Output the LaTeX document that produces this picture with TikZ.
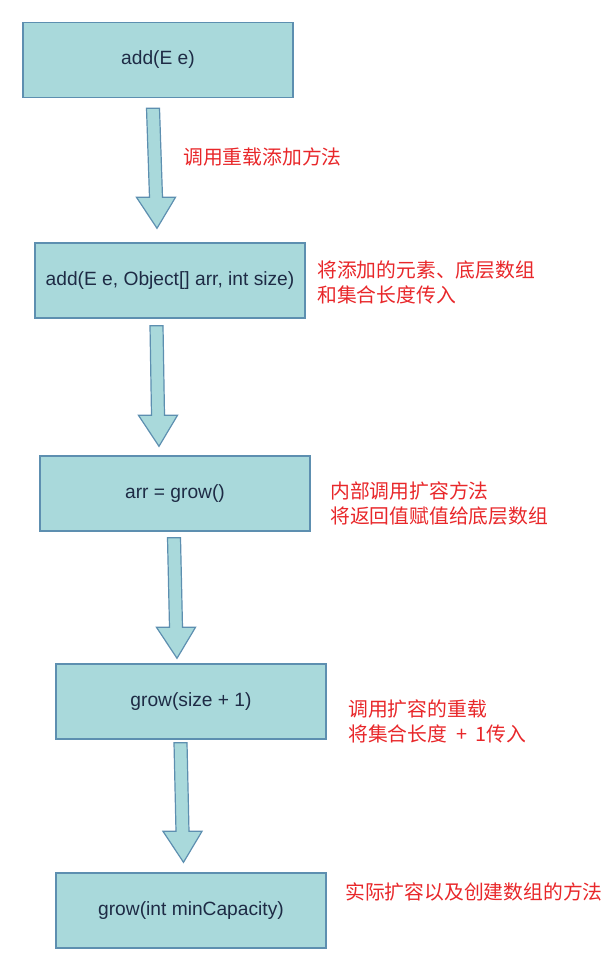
\documentclass[tikz,border=0pt]{standalone}
\usepackage{fontspec}
\setmainfont{Liberation Sans}
\newfontfamily\cjk{Noto Sans CJK SC}
\usetikzlibrary{calc}
\definecolor{boxfill}{HTML}{A9D9DB}
\definecolor{boxline}{HTML}{5D8FB0}
\definecolor{txtnavy}{HTML}{1E2B45}
\definecolor{notered}{HTML}{E8272A}

\begin{document}
\begin{tikzpicture}[
      x=1pt, y=-1pt,
      stepbox/.style={
        draw=boxline, fill=boxfill, line width=1.4pt,
        minimum width=270pt, minimum height=75pt, inner sep=0pt,
        text=txtnavy, font=\fontsize{19.2}{23}\selectfont
      },
      note/.style={
        anchor=west, inner sep=0pt, align=left,
        text=notered, font=\cjk\fontsize{19.8}{25}\selectfont
      },
      bigarrow/.style={draw=boxline, fill=boxfill, line width=1.2pt}
    ]
      \useasboundingbox (0,0) rectangle (614,970);

      \node[stepbox] (n1) at (158,60){add(E e)};
      \node[stepbox] (n2) at (170,280.5){add(E e, Object[] arr, int size)};
      \node[stepbox] (n3) at (175,493.5){arr = grow()};
      \node[stepbox] (n4) at (191,701.5){grow(size + 1)};
      \node[stepbox] (n5) at (191,910.5){grow(int minCapacity)};

      \node[note] (c1) at (183,157){调用重载添加方法};
      \node[note] (c2) at (317,282.5){将添加的元素、底层数组\\和集合长度传入};
      \node[note] (c3) at (330,503.5){内部调用扩容方法\\将返回值赋值给底层数组};
      \node[note] (c4) at (348,721.5){调用扩容的重载\\将集合长度\hspace{0.45em}+\hspace{0.45em}1传入};
      \node[note] (c5) at (345,892){实际扩容以及创建数组的方法};

      \foreach \a/\b/\sx/\sy/\tx/\ty in {n1/n2/-5/10/-13/-14,
          n2/n3/-13.5/7/-16/-9, n3/n4/-1/6/-14/-5, n4/n5/-10.5/3/-7.5/-10} {
        \coordinate (s\a) at ($(\a.south)+(\sx,\sy)$);
        \coordinate (t\a) at ($(\b.north)+(\tx,\ty)$);
        \coordinate (h\a) at ($(t\a)+(-1,-31)$);
        \draw[bigarrow] ($(s\a)+(-6.5,0)$) -- ($(h\a)+(-6.5,0)$)
          -- ($(h\a)+(-19.5,0)$) -- (t\a) -- ($(h\a)+(19.5,0)$)
          -- ($(h\a)+(6.5,0)$) -- ($(s\a)+(6.5,0)$) -- cycle;
      }
    \end{tikzpicture}
\end{document}
